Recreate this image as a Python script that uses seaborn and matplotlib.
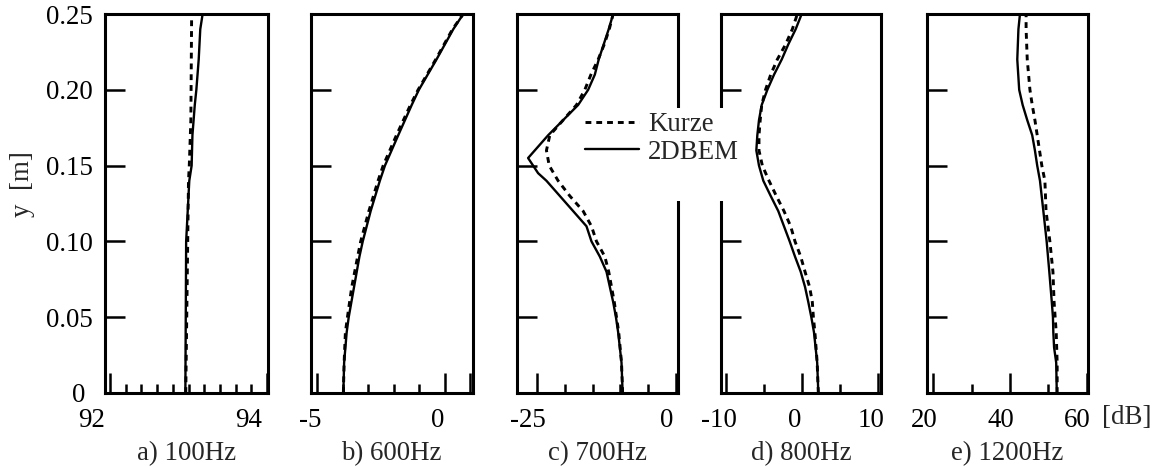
import numpy as np
import pandas as pd
import matplotlib
matplotlib.use("Agg")
import matplotlib.pyplot as plt
import seaborn as sns
from matplotlib.patches import Rectangle
from matplotlib.transforms import ScaledTranslation
from matplotlib.lines import Line2D

# ---------------- data ----------------
PANEL_TITLES = ["a) 100Hz", "b) 600Hz", "c) 700Hz", "d) 800Hz", "e) 1200Hz"]
SERIES_NAMES = ["Kurze", "2DBEM"]

# a) 100 Hz
A_Y_BEM = [0, 0.10, 0.12, 0.14, 0.15, 0.17, 0.19, 0.20, 0.22, 0.24, 0.25]
A_BEM = [92.96, 92.97, 92.99, 93.01, 93.04, 93.05, 93.08, 93.10, 93.13, 93.15, 93.18]
A_Y_KURZE = [0, 0.10, 0.14, 0.15, 0.165, 0.18, 0.25]
A_KURZE = [92.965, 92.99, 93.0, 93.01, 93.02, 93.03, 93.04]

# b) 600 Hz
B_Y = [0, 0.02, 0.04, 0.05, 0.07, 0.09, 0.10, 0.12, 0.14, 0.15, 0.17, 0.19, 0.20, 0.22, 0.24, 0.25]
B_BEM = [-3.98, -3.95, -3.85, -3.77, -3.56, -3.35, -3.22, -2.91, -2.55, -2.35, -1.83, -1.30, -1.02, -0.33, 0.33, 0.72]
B_KURZE = [-3.98, -3.95, -3.9, -3.82, -3.65, -3.42, -3.3, -2.98, -2.62, -2.42, -1.9, -1.35, -1.05, -0.36, 0.3, 0.72]

# c) 700 Hz
C_Y_BEM = [0, 0.02, 0.04, 0.05, 0.06, 0.07, 0.08, 0.09, 0.10, 0.11, 0.12, 0.13, 0.14, 0.145,
           0.155, 0.16, 0.17, 0.18, 0.19, 0.20, 0.21, 0.22, 0.23, 0.24, 0.25]
C_BEM = [-9.6, -9.8, -10.4, -10.8, -11.3, -11.9, -12.5, -13.7, -15.2, -16.1, -18.5, -20.9, -23.3, -24.8,
         -26.6, -25.4, -23.0, -20.3, -17.6, -15.8, -14.6, -13.9, -13.0, -12.1, -11.3]
C_Y_KURZE = [0, 0.02, 0.04, 0.05, 0.06, 0.07, 0.08, 0.09, 0.10, 0.11, 0.12, 0.13, 0.14, 0.15,
             0.16, 0.17, 0.18, 0.19, 0.20, 0.21, 0.22, 0.23, 0.24, 0.25]
C_KURZE = [-9.6, -9.8, -10.3, -10.7, -11.1, -11.6, -12.1, -12.8, -14.3, -15.2, -16.7, -19.1, -21.2, -22.8,
           -23.3, -22.7, -20.3, -17.9, -16.4, -15.3, -14.0, -12.9, -12.0, -11.3]

# d) 800 Hz
D_Y = [0, 0.02, 0.04, 0.05, 0.06, 0.07, 0.08, 0.09, 0.10, 0.11, 0.12, 0.13, 0.14, 0.15,
       0.16, 0.17, 0.18, 0.19, 0.20, 0.21, 0.22, 0.23, 0.24, 0.25]
D_BEM = [2.15, 2.0, 1.58, 1.23, 0.83, 0.4, -0.17, -0.92, -1.62, -2.37, -3.12, -4.12, -5.09, -5.66,
         -6.01, -5.88, -5.66, -5.3, -4.56, -3.68, -2.67, -1.8, -0.83, -0.04]
D_KURZE = [2.15, 2.0, 1.7, 1.5, 1.36, 1.0, 0.4, -0.17, -0.92, -1.49, -2.37, -3.38, -4.34, -5.22,
           -5.66, -5.66, -5.5, -5.3, -4.8, -4.12, -3.25, -2.15, -1.27, -0.61]

# e) 1200 Hz
E_Y_BEM = [0, 0.02, 0.03, 0.04, 0.05, 0.06, 0.08, 0.10, 0.12, 0.14, 0.15, 0.16, 0.17, 0.18,
           0.19, 0.20, 0.22, 0.24, 0.25]
E_BEM = [52.2, 52.05, 51.5, 51.3, 51.2, 50.9, 50.25, 49.56, 48.7, 47.82, 47.1, 46.5, 45.8, 44.5,
         43.3, 42.4, 41.9, 42.2, 42.6]
E_Y_KURZE = [0, 0.02, 0.04, 0.06, 0.08, 0.10, 0.12, 0.14, 0.15, 0.16, 0.17, 0.18, 0.19, 0.20,
             0.22, 0.24, 0.25]
E_KURZE = [52.3, 52.3, 52.05, 51.5, 51.2, 50.4, 49.4, 49.1, 48.3, 47.7, 47.1, 46.5, 45.8, 45.2,
           44.5, 44.2, 44.2]

# axis ticks
X_MAJOR = [[92, 94], [-5, 0, 1], [-25, 0], [-10, 0, 10], [20, 40, 60]]
X_MAJOR_LABELS = [["92", "94"], ["-5", "0", ""], ["-25", "0"], ["-10", "0", "10"], ["20", "40", "60"]]
X_MINOR = [[92.2, 92.4, 92.6, 92.8, 93.0, 93.2, 93.4, 93.6, 93.8],
           [-4, -3, -2, -1], [-20, -15, -10, -5], [-5, 5], [30, 50]]
X_LIMITS = [(91.936, 94.013), (-5.26, 1.09), (-28.65, 0.36), (-10.7, 10.4), (18.44, 60.34)]
Y_TICKS = [0, 0.05, 0.10, 0.15, 0.20, 0.25]
Y_TICK_LABELS = ["0", "0.05", "0.10", "0.15", "0.20", "0.25"]
Y_LABEL = "y  [m]"
UNIT_LABEL = "[dB]"

panels = [
    (A_Y_KURZE, A_KURZE, A_Y_BEM, A_BEM),
    (B_Y, B_KURZE, B_Y, B_BEM),
    (C_Y_KURZE, C_KURZE, C_Y_BEM, C_BEM),
    (D_Y, D_KURZE, D_Y, D_BEM),
    (E_Y_KURZE, E_KURZE, E_Y_BEM, E_BEM),
]

# ---------------- style ----------------
sns.set_theme(style="white")
plt.rcParams["font.family"] = ["Liberation Serif", "DejaVu Serif"]
plt.rcParams["axes.unicode_minus"] = False
FS = 19.4

W, H = 1162, 467
fig = plt.figure(figsize=(W / 100, H / 100), dpi=100)

left_px = [105, 310.7, 516.7, 720.7, 927.3]
right_px = [268, 472.7, 678, 881, 1088]
top_px, bot_px = 14, 393
label_shift = [-18, -7, -9, -7, -9]
DASH = (0, (2.0, 1.7))

for i, (yk, xk, yb, xb) in enumerate(panels):
    ax = fig.add_axes([left_px[i] / W, 1 - bot_px / H,
                       (right_px[i] - left_px[i]) / W, (bot_px - top_px) / H])
    dfk = pd.DataFrame({"level": xk, "y": yk})
    dfb = pd.DataFrame({"level": xb, "y": yb})
    sns.lineplot(data=dfb, x="level", y="y", sort=False, estimator=None, ax=ax,
                 color="black", lw=1.7, linestyle="-")
    sns.lineplot(data=dfk, x="level", y="y", sort=False, estimator=None, ax=ax,
                 color="black", lw=2.1, linestyle=DASH)
    ax.set_xlim(*X_LIMITS[i])
    ax.set_ylim(0, 0.25)
    for s in ax.spines.values():
        s.set_linewidth(2.2)
        s.set_color("black")
        s.set_visible(True)
    ax.set_xticks(X_MAJOR[i])
    ax.set_xticklabels(X_MAJOR_LABELS[i])
    ax.set_xticks(X_MINOR[i], minor=True)
    ax.set_yticks(Y_TICKS)
    ax.tick_params(axis="x", which="major", direction="in", length=14.4, width=1.8,
                   colors="black", labelsize=FS, pad=10.5, bottom=True, top=False)
    ax.tick_params(axis="x", which="minor", direction="in", length=6.5, width=1.8,
                   colors="black", bottom=True, top=False)
    ax.tick_params(axis="y", which="major", direction="in", length=14.4, width=1.8,
                   colors="black", labelsize=FS, pad=9, left=True, right=False)
    if i == 0:
        ax.set_yticklabels(Y_TICK_LABELS)
        ax.set_ylabel(Y_LABEL, fontsize=FS)
        ax.yaxis.set_label_coords(-0.43, 0.55)
        zero_lab = ax.get_yticklabels()[0]
        zero_lab.set_transform(zero_lab.get_transform() +
                               ScaledTranslation(-7 / 100, 0, fig.dpi_scale_trans))
    else:
        ax.set_yticklabels([])
        ax.set_ylabel("")
    ax.set_xlabel(PANEL_TITLES[i], fontsize=FS, labelpad=6)
    ax.grid(False)
    off = ScaledTranslation(label_shift[i] / 100, 0, fig.dpi_scale_trans)
    for lab in ax.get_xticklabels():
        lab.set_transform(lab.get_transform() + off)

# white gap where the legend sits (breaks the neighbouring frames)
fig.add_artist(Rectangle((580 / W, 1 - 201 / H), 165 / W, 93 / H, transform=fig.transFigure,
                         facecolor="white", edgecolor="none", zorder=3))

handles = [Line2D([], [], color="black", lw=2.1, linestyle=DASH),
           Line2D([], [], color="black", lw=1.7, linestyle="-")]
leg = fig.legend(handles, SERIES_NAMES, loc="upper left",
                 bbox_to_anchor=(585 / W, 1 - 112 / H), frameon=False, fontsize=FS,
                 borderpad=0, borderaxespad=0, handlelength=2.0, handletextpad=0.35,
                 labelspacing=0.1)
leg.set_zorder(5)

fig.text(1127 / W, 1 - 418 / H, UNIT_LABEL, ha="center", va="center", fontsize=FS)

fig.savefig("out.png", dpi=100, facecolor="white")
